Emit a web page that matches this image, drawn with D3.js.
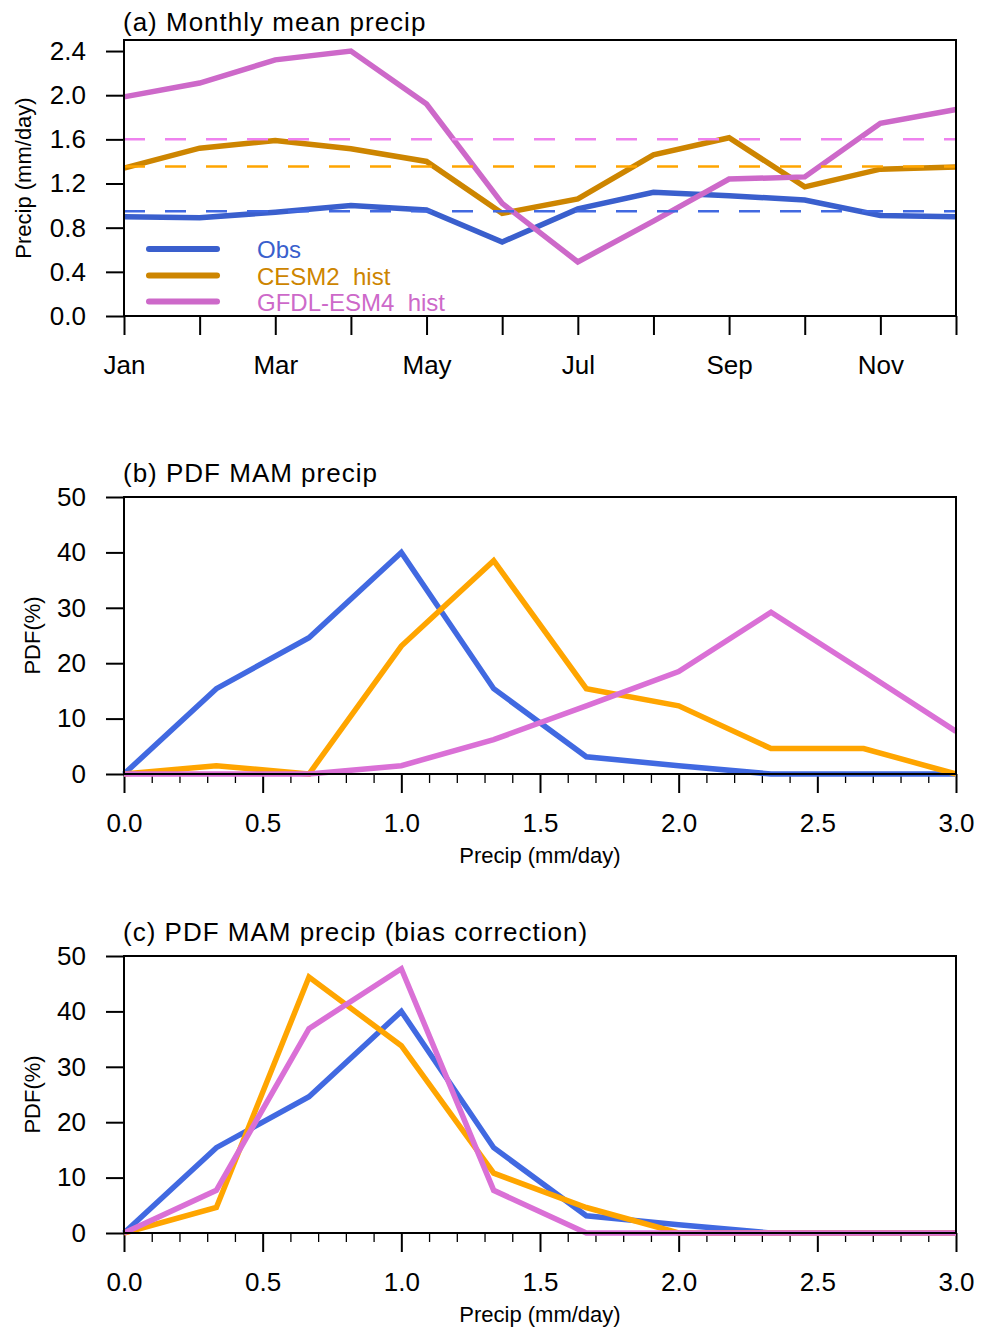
<!DOCTYPE html>
<html><head><meta charset="utf-8">
<script src="https://cdn.jsdelivr.net/npm/d3@7"></script>
<style>
body{margin:0;background:#fff}
text{font-family:"Liberation Sans",Arial,Helvetica,sans-serif;fill:#000}
</style>
</head><body><svg id="c" width="988" height="1328"></svg>
<script>
// ---------- data ----------
const months = ["Jan","Feb","Mar","Apr","May","Jun","Jul","Aug","Sep","Oct","Nov","Dec"];
const obsMonthly  = [0.90,0.89,0.94,1.00,0.96,0.67,0.97,1.12,1.09,1.05,0.91,0.90];
const cesmMonthly = [1.34,1.52,1.59,1.515,1.40,0.93,1.06,1.46,1.615,1.17,1.33,1.35];
const gfdlMonthly = [1.985,2.11,2.32,2.40,1.92,1.02,0.49,0.86,1.24,1.26,1.745,1.87];
const obsMean = 0.948, cesmMean = 1.355, gfdlMean = 1.60;
const seriesNames = ["Obs","CESM2  hist","GFDL-ESM4  hist"];
const monthTicksA = [0,0.4,0.8,1.2,1.6,2.0,2.4];

const binCenters = [0,0.333,0.667,1.0,1.333,1.667,2.0,2.333,2.667,3.0];
const obsPdf    = [0,15.4,24.6,40.0,15.4,3.1,1.5,0,0,0];
const cesmPdf   = [0,1.5,0,23.1,38.5,15.4,12.3,4.6,4.6,0];
const gfdlPdf   = [0,0,0,1.5,6.2,12.3,18.5,29.2,18.5,7.7];
const obsPdfBC  = [0,15.4,24.6,40.0,15.4,3.1,1.5,0,0,0];
const cesmPdfBC = [0,4.6,46.2,33.8,10.8,4.6,0,0,0,0];
const gfdlPdfBC = [0,7.7,36.9,47.7,7.7,0,0,0,0,0];
const pdfYTicks = [0,10,20,30,40,50];
const pdfXTicks = [0,0.5,1.0,1.5,2.0,2.5,3.0];

// ---------- styles ----------
const colA = ["#3a5fcd","#cd8500","#cd69c9"];
const colDash = ["#4169e1","#ffa500","#ee82ee"];
const colB = ["#4169e1","#ffa500","#da70d6"];

const svg = d3.select("#c");
svg.append("rect").attr("width",988).attr("height",1328).attr("fill","#fff");
const L = 124, R = 956;

function styleAxis(g, fs){
  g.select(".domain").remove();
  g.selectAll(".tick line").attr("stroke","#000").attr("stroke-width",2);
  g.selectAll(".tick text").attr("font-size",fs).attr("fill","#000")
   .style("font-family",'"Liberation Sans",Arial,Helvetica,sans-serif');
}

// ================= Panel (a) =================
{
  const top = 40, bot = 316;
  const x = d3.scalePoint().domain(months).range([L,R]);
  const y = d3.scaleLinear().domain([0,2.5]).range([bot,top]);

  const gy = svg.append("g").attr("transform",`translate(${L},0)`)
    .call(d3.axisLeft(y).tickValues(monthTicksA).tickSize(18).tickPadding(20).tickFormat(d3.format(".1f")));
  styleAxis(gy,26);
  const gx = svg.append("g").attr("transform",`translate(0,${bot})`)
    .call(d3.axisBottom(x).tickSize(19).tickPadding(21).tickFormat((d,i)=> i%2===0 ? d : ""));
  styleAxis(gx,26);

  const data = [obsMonthly, cesmMonthly, gfdlMonthly];
  const means = [obsMean, cesmMean, gfdlMean];
  const line = d3.line().x((d,i)=>x(months[i])).y(d=>y(d));
  data.forEach((s,k)=>{
    svg.append("path").datum(s).attr("d",line).attr("fill","none")
      .attr("stroke",colA[k]).attr("stroke-width",5.5).attr("stroke-linejoin","miter");
  });
  means.forEach((m,k)=>{
    svg.append("path").datum(months.map(()=>m)).attr("d",line).attr("fill","none")
      .attr("stroke",colDash[k]).attr("stroke-width",2.5).attr("stroke-dasharray","21,20");
  });

  svg.append("rect").attr("x",L).attr("y",top).attr("width",R-L).attr("height",bot-top)
    .attr("fill","none").attr("stroke","#000").attr("stroke-width",2);

  // legend
  const ly = [249,275.5,301.5];
  seriesNames.forEach((n,k)=>{
    svg.append("line").attr("x1",149).attr("x2",217).attr("y1",ly[k]).attr("y2",ly[k])
      .attr("stroke",colA[k]).attr("stroke-width",6).attr("stroke-linecap","round");
    svg.append("text").attr("x",257).attr("y",ly[k]+9).attr("font-size",24)
      .style("white-space","pre").style("fill",colA[k]).text(n);
  });

  svg.append("text").attr("x",123).attr("y",31).attr("font-size",26).attr("letter-spacing",1)
    .text("(a) Monthly mean precip");
  svg.append("text").attr("transform",`translate(31,${(top+bot)/2}) rotate(-90)`)
    .attr("text-anchor","middle").attr("font-size",22).text("Precip (mm/day)");
}

// ================= PDF panels =================
function pdfPanel(top, title, series){
  const bot = top + 277;
  const x = d3.scaleLinear().domain([0,3]).range([L,R]);
  const y = d3.scaleLinear().domain([0,50]).range([bot,top]);

  const gy = svg.append("g").attr("transform",`translate(${L},0)`)
    .call(d3.axisLeft(y).tickValues(pdfYTicks).tickSize(18).tickPadding(20).tickFormat(d3.format("d")));
  styleAxis(gy,26);
  const minor = d3.range(0,31).map(i=>i/10).filter(v=>Math.abs(v*2-Math.round(v*2))>1e-6);
  const gm = svg.append("g").attr("transform",`translate(0,${bot})`)
    .call(d3.axisBottom(x).tickValues(minor).tickSize(9).tickFormat(""));
  gm.select(".domain").remove();
  gm.selectAll(".tick line").attr("stroke","#000").attr("stroke-width",1.3);
  const gx = svg.append("g").attr("transform",`translate(0,${bot})`)
    .call(d3.axisBottom(x).tickValues(pdfXTicks).tickSize(19).tickPadding(21).tickFormat(d3.format(".1f")));
  styleAxis(gx,26);

  const line = d3.line().x((d,i)=>x(binCenters[i])).y(d=>y(d));
  series.forEach((s,k)=>{
    svg.append("path").datum(s).attr("d",line).attr("fill","none")
      .attr("stroke",colB[k]).attr("stroke-width",5.5).attr("stroke-linejoin","miter");
  });

  svg.append("rect").attr("x",L).attr("y",top).attr("width",R-L).attr("height",bot-top)
    .attr("fill","none").attr("stroke","#000").attr("stroke-width",2);

  svg.append("text").attr("x",123).attr("y",top-15).attr("font-size",26).attr("letter-spacing",1).text(title);
  svg.append("text").attr("transform",`translate(40,${(top+bot)/2}) rotate(-90)`)
    .attr("text-anchor","middle").attr("font-size",22).text("PDF(%)");
  svg.append("text").attr("x",(L+R)/2).attr("y",bot+89).attr("text-anchor","middle")
    .attr("font-size",22).text("Precip (mm/day)");
}
pdfPanel(497, "(b) PDF MAM precip", [obsPdf, cesmPdf, gfdlPdf]);
pdfPanel(956, "(c) PDF MAM precip (bias correction)", [obsPdfBC, cesmPdfBC, gfdlPdfBC]);
</script>
</body></html>
